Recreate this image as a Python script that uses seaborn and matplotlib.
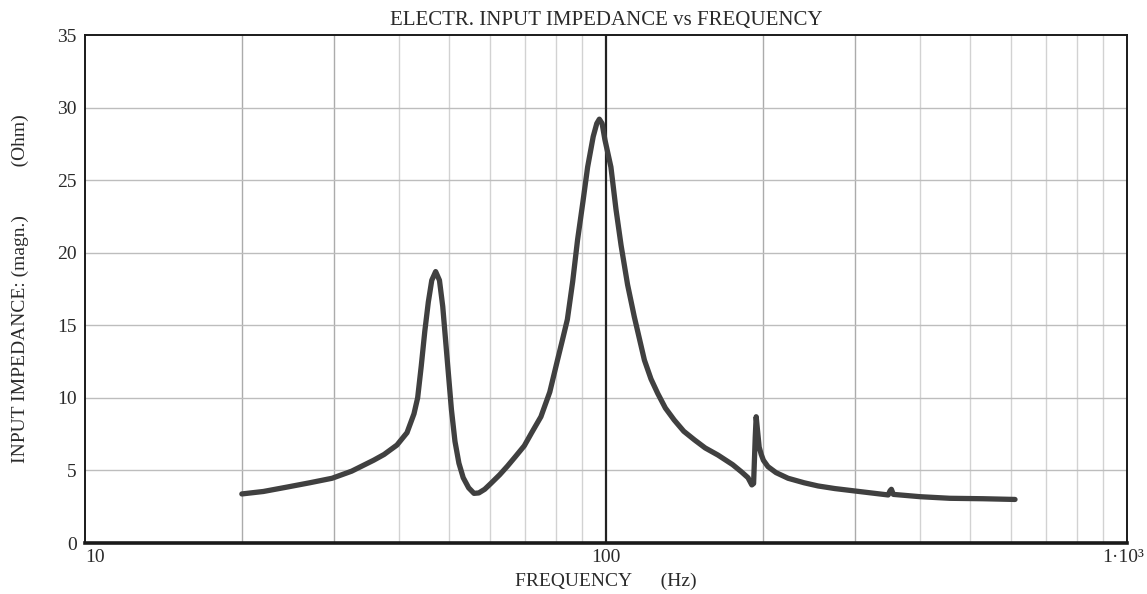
import matplotlib
matplotlib.use("Agg")
import matplotlib.pyplot as plt
import matplotlib.ticker as mticker
import matplotlib.transforms as mtransforms
import seaborn as sns
import pandas as pd

# Measured electrical input impedance magnitude of the driver
freq_hz = [20, 22, 24.4, 27, 29.8, 32.5, 35.8, 37.5, 39.7, 41.5, 42.8, 43.5, 44.2, 44.9,
           45.6, 46.3, 47.1, 47.9, 48.6, 49.5, 50.5, 51.3, 52.2, 53.2, 54.5, 55.8, 57.0,
           58.5, 60.1, 62.5, 64.7, 67.0, 69.7, 72.0, 75.0, 78.0, 80.7, 82.5, 84.3, 86.3,
           88.2, 90.3, 92.2, 94.5, 96.0, 97.1, 98.3, 99.5, 102.2, 104.5, 106.9, 110.0,
           113.3, 118.5, 122.0, 125.7, 130.0, 135.2, 141.0, 147.9, 155.0, 164.0, 175.0,
           182.0, 187.3, 190.5, 192.0, 193.4, 194.2, 195.3, 196.8, 198.6, 200.5, 204.6,
           212.0, 223.6, 240.0, 255.3, 275.0, 301.0, 348.0, 351.0, 353.0, 356.0, 401.0,
           457.0, 530.0, 609.6]
impedance_ohm = [3.38, 3.55, 3.85, 4.15, 4.46, 4.95, 5.7, 6.1, 6.75, 7.6, 8.9, 10.0, 12.2, 14.6,
                 16.6, 18.1, 18.7, 18.1, 16.3, 12.9, 9.2, 7.0, 5.5, 4.5, 3.8, 3.42, 3.45,
                 3.7, 4.1, 4.7, 5.3, 5.95, 6.7, 7.6, 8.7, 10.4, 12.6, 14.0, 15.4, 18.0,
                 20.9, 23.5, 25.9, 28.0, 28.9, 29.2, 28.9, 27.8, 25.9, 23.0, 20.5, 17.8,
                 15.6, 12.6, 11.3, 10.3, 9.3, 8.47, 7.7, 7.1, 6.55, 6.06, 5.4,
                 4.9, 4.5, 4.0, 4.1, 7.3, 8.7, 7.8, 6.6, 6.1, 5.7, 5.26,
                 4.85, 4.46, 4.15, 3.93, 3.75, 3.58, 3.31, 3.6, 3.7, 3.35, 3.19,
                 3.08, 3.05, 3.0]

x_ticks = [10, 100, 1000]
x_tick_labels = ["10", "100", "1·10³"]
y_ticks = [0, 5, 10, 15, 20, 25, 30, 35]

sns.set_style("white")
plt.rcParams["font.family"] = ["Liberation Serif", "DejaVu Serif"]

ink = "#2a2a2a"
fig = plt.figure(figsize=(11.47, 5.94), dpi=100)
ax = fig.add_axes([85 / 1147, 51 / 594, 1042 / 1147, 508 / 594])

ax.set_xscale("log")
ax.set_xlim(10, 1000)
ax.set_ylim(0, 35)

# grid: light minor decades, a dark line marking 100 Hz
for dec in (10, 100):
    for m in range(2, 10):
        shade = "#ababab" if m in (2, 3) else "#d2d2d2"
        ax.axvline(dec * m, color=shade, lw=1.0, zorder=0)
ax.axvline(100, color="#222222", lw=1.6, zorder=1)
for yv in y_ticks[1:-1]:
    ax.axhline(yv, color="#bdbdbd", lw=1.0, zorder=0)

df = pd.DataFrame({"f": freq_hz, "z": impedance_ohm})
sns.lineplot(data=df, x="f", y="z", ax=ax, color="#404040", lw=3.8,
             sort=False, estimator=None, zorder=3)

ax.set_xticks(x_ticks)
ax.set_xticklabels(x_tick_labels)
ax.xaxis.set_minor_locator(mticker.NullLocator())
ax.set_yticks(y_ticks)
ax.tick_params(axis="both", length=0, labelsize=14, colors=ink)
ax.tick_params(axis="x", pad=4)
ax.tick_params(axis="y", pad=6)
labels = ax.get_xticklabels()
labels[0].set_horizontalalignment("left")
labels[-1].set_horizontalalignment("right")
labels[-1].set_transform(labels[-1].get_transform() +
                         mtransforms.ScaledTranslation(0.17, 0, fig.dpi_scale_trans))

for side, sp in ax.spines.items():
    sp.set_visible(True)
    sp.set_color("#1a1a1a")
    sp.set_linewidth(2.6 if side == "bottom" else 1.4)

ax.set_xlabel("FREQUENCY      (Hz)", fontsize=14, color=ink, labelpad=5)
ax.set_ylabel("INPUT IMPEDANCE: (magn.)          (Ohm)", fontsize=14, color=ink,
              labelpad=20)
ax.set_title("ELECTR. INPUT IMPEDANCE vs FREQUENCY", fontsize=15, color=ink, pad=7)

fig.savefig("out.png", dpi=100)
